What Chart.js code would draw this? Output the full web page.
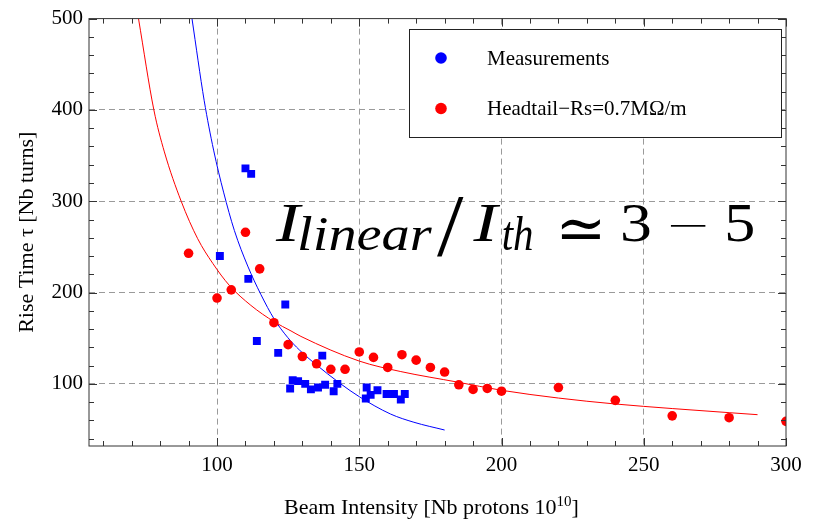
<!DOCTYPE html>
<html><head><meta charset="utf-8">
<script src="https://cdn.jsdelivr.net/npm/chart.js@4.4.1/dist/chart.umd.min.js"></script>
<style>html,body{margin:0;padding:0;background:#fff}#wrap{width:821px;height:519px}</style>
</head><body><div id="wrap"><canvas id="c" width="821" height="519"></canvas></div>
<script>
// ---- data ----
const measX = [101, 110, 112, 111, 114, 121.5, 124, 125.7, 126.6, 128.5, 131, 133, 135.5, 137, 138, 141, 142.3, 152.3, 152.6, 154, 156.4, 159.6, 162.2, 164.6, 166];
const measY = [240, 336, 330, 215, 147, 134, 187, 95, 104, 103, 100, 94, 96, 131, 99, 92, 100, 84, 96, 88, 93, 89, 89, 83, 89];
const headX = [90, 100, 105, 110, 115, 120, 125, 130, 135, 140, 145, 150, 155, 160, 165, 170, 175, 180, 185, 190, 195, 200, 220, 240, 260, 280, 300];
const headY = [243, 194, 203, 266, 226, 167, 143, 130, 122, 116, 116, 135, 129, 118, 132, 126, 118, 113, 99, 94, 95, 92, 96, 82, 65, 63, 59];
const measFitX = [91.2, 95.5, 98.8, 102.3, 106.1, 110.8, 115.4, 120.1, 124.8, 129, 134.1, 143.5, 150, 161, 169.2, 180];
const measFitY = [500, 410, 356, 310, 268, 229, 198, 171, 151, 137, 123, 100, 86, 67, 58, 49.5];
const headFitX = [72.4, 77.8, 81.5, 87.4, 93.2, 98.5, 104.3, 111.9, 120.1, 126, 129.5, 150, 164.6, 184.5, 200, 220, 240, 260, 280, 290];
const headFitY = [500, 400, 354, 300, 259, 232, 208, 186, 168, 158, 152, 125, 113.5, 102, 93, 84.5, 78, 73, 68.5, 66.3];
const xTickLabels = [100, 150, 200, 250, 300];
const yTickLabels = [100, 200, 300, 400, 500];
const seriesNames = ['Measurements', 'Headtail\u2212Rs=0.7M\u03A9/m'];
const xTitleParts = ['Beam Intensity [Nb protons 10', '10', ']'];
const yTitle = 'Rise Time \u03C4 [Nb turns]';
const annotationText = ['I', 'linear', '/', 'I', 'th', '\u2243', '3', '\u2212', '5'];

// ---- helpers ----
const zip = (xs, ys) => xs.map((v, i) => ({x: v, y: ys[i]}));
const SERIF = "'Liberation Serif', 'Times New Roman', serif";
const BLUE = '#0000ff', RED = '#ff0000';

const decor = {
  id: 'decor',
  afterDraw(chart) {
    const {ctx, chartArea: a, scales: {x, y}} = chart;
    ctx.save();
    // frame
    ctx.strokeStyle = '#333';
    ctx.lineWidth = 1;
    ctx.setLineDash([]);
    ctx.strokeRect(a.left, a.top, a.right - a.left, a.bottom - a.top);
    // inward ticks
    ctx.beginPath();
    for (let v = 60; v <= 300; v += 10) {
      const p = Math.round(x.getPixelForValue(v)) + 0.5;
      const len = v % 50 === 0 ? 8 : 5;
      ctx.moveTo(p, a.bottom); ctx.lineTo(p, a.bottom - len);
      ctx.moveTo(p, a.top); ctx.lineTo(p, a.top + len);
    }
    for (let v = 40; v <= 500; v += 20) {
      const p = Math.round(y.getPixelForValue(v)) + 0.5;
      const len = v % 100 === 0 ? 8 : 5;
      ctx.moveTo(a.left, p); ctx.lineTo(a.left + len, p);
      ctx.moveTo(a.right, p); ctx.lineTo(a.right - len, p);
    }
    ctx.stroke();

    // x-axis title with superscript
    ctx.fillStyle = '#000';
    ctx.textAlign = 'left';
    ctx.textBaseline = 'alphabetic';
    const fMain = '22px ' + SERIF, fSup = '15px ' + SERIF;
    ctx.font = fMain; const w1 = ctx.measureText(xTitleParts[0]).width; const w3 = ctx.measureText(xTitleParts[2]).width;
    ctx.font = fSup; const w2 = ctx.measureText(xTitleParts[1]).width;
    let tx = (a.left + a.right) / 2 - 6 - (w1 + w2 + w3) / 2;
    const tb = 514;
    ctx.font = fMain; ctx.fillText(xTitleParts[0], tx, tb); tx += w1;
    ctx.font = fSup; ctx.fillText(xTitleParts[1], tx, tb - 8); tx += w2;
    ctx.font = fMain; ctx.fillText(xTitleParts[2], tx, tb);

    // formula annotation (each glyph group fitted to its box, limited stretch)
    const IT = "italic 56px 'Liberation Serif', 'DejaVu Serif', serif";
    const UP = "56px 'Liberation Serif', 'DejaVu Serif', serif";
    const parts = [
      [annotationText[0], IT, 271.9, 305.9, 203.6, 241],
      [annotationText[1], IT, 299.1, 431.8, 215.5, 251.2],
      [annotationText[2], UP, 436.9, 464.1, 195.1, 256.3],
      [annotationText[3], IT, 467.5, 504.9, 203.6, 241],
      [annotationText[4], IT, 503.2, 532.1, 215.5, 251.2],
      [annotationText[5], UP, 561, 600, 219, 240.3],
      [annotationText[6], UP, 622.2, 649.5, 202.9, 241.7],
      [annotationText[7], UP, 669.9, 705.6, 224.4, 226.4],
      [annotationText[8], UP, 727.7, 753.2, 202.9, 241.7]
    ];
    parts.forEach(([t, f, x0, x1, y0, y1], i) => {
      ctx.font = f;
      const m = ctx.measureText(t);
      const inkW = m.actualBoundingBoxLeft + m.actualBoundingBoxRight;
      const inkH = m.actualBoundingBoxAscent + m.actualBoundingBoxDescent;
      const sy = (y1 - y0) / inkH;
      let sx = (x1 - x0) / inkW;
      if (t !== annotationText[7]) sx = Math.min(sx, sy * 1.3);
      const xs = (x0 + x1) / 2 - inkW * sx / 2;
      const syUse = t === annotationText[7] ? Math.min(sy, sx) : sy;
      ctx.save();
      ctx.translate(xs + m.actualBoundingBoxLeft * sx, (y0 + y1) / 2 + (m.actualBoundingBoxAscent - inkH / 2) * syUse);
      ctx.scale(sx, syUse);
      ctx.fillText(t, 0, 0);
      ctx.restore();
    });

    // legend box
    ctx.fillStyle = '#fff';
    ctx.fillRect(409, 29, 373, 109);
    ctx.strokeStyle = '#222';
    ctx.lineWidth = 1;
    ctx.strokeRect(409.5, 29.5, 372, 108);
    const cols = [BLUE, RED];
    const ys = [58, 108.5];
    ctx.font = '21px ' + SERIF;
    ctx.textBaseline = 'middle';
    for (let i = 0; i < 2; i++) {
      ctx.fillStyle = cols[i];
      ctx.beginPath();
      ctx.arc(441, ys[i], 5.8, 0, Math.PI * 2);
      ctx.fill();
      ctx.fillStyle = '#000';
      ctx.fillText(seriesNames[i], 487, ys[i] + 1);
    }
    ctx.restore();
  }
};

new Chart(document.getElementById('c'), {
  type: 'scatter',
  data: {
    datasets: [
      {label: seriesNames[0] + ' fit', type: 'line', data: zip(measFitX, measFitY), borderColor: BLUE, borderWidth: 1, pointRadius: 0, cubicInterpolationMode: 'monotone', fill: false, clip: 0, order: 3},
      {label: seriesNames[1] + ' fit', type: 'line', data: zip(headFitX, headFitY), borderColor: RED, borderWidth: 1, pointRadius: 0, cubicInterpolationMode: 'monotone', fill: false, clip: 0, order: 4},
      {label: seriesNames[1], data: zip(headX, headY), backgroundColor: RED, borderWidth: 0, pointRadius: 4.8, pointStyle: 'circle', clip: 0, order: 2},
      {label: seriesNames[0], data: zip(measX, measY), backgroundColor: BLUE, borderWidth: 0, pointRadius: 5.6, pointStyle: 'rect', clip: 0, order: 1}
    ]
  },
  options: {
    responsive: false,
    animation: false,
    devicePixelRatio: 1,
    layout: {padding: {left: 0, top: 16, right: 35, bottom: 0}},
    plugins: {legend: {display: false}, tooltip: {enabled: false}},
    scales: {
      x: {
        type: 'linear', min: 55, max: 300,
        afterFit: s => { s.height = 73; },
        grid: {drawTicks: false, lineWidth: 1, color: c => (c.tick && c.tick.value % 50 === 0 && c.tick.value < 300) ? '#9a9a9a' : 'rgba(0,0,0,0)'},
        border: {display: false, dash: [6, 4]},
        ticks: {stepSize: 50, autoSkip: false, maxRotation: 0, padding: 7, color: '#000', font: {family: SERIF, size: 21},
          callback: v => xTickLabels.includes(v) ? String(v) : ''},
        title: {display: false}
      },
      y: {
        type: 'linear', min: 32, max: 500,
        afterFit: s => { s.width = 89; },
        grid: {drawTicks: false, lineWidth: 1, color: c => (c.tick && c.tick.value % 100 === 0 && c.tick.value < 500) ? '#9a9a9a' : 'rgba(0,0,0,0)'},
        border: {display: false, dash: [6, 4]},
        ticks: {stepSize: 100, autoSkip: false, padding: 6, color: '#000', font: {family: SERIF, size: 21},
          callback: v => yTickLabels.includes(v) ? String(v) : ''},
        title: {display: true, text: yTitle, color: '#000', font: {family: SERIF, size: 22, lineHeight: 1.2}, padding: {top: 14, bottom: 0}}
      }
    }
  },
  plugins: [decor]
});
</script>
</body></html>
